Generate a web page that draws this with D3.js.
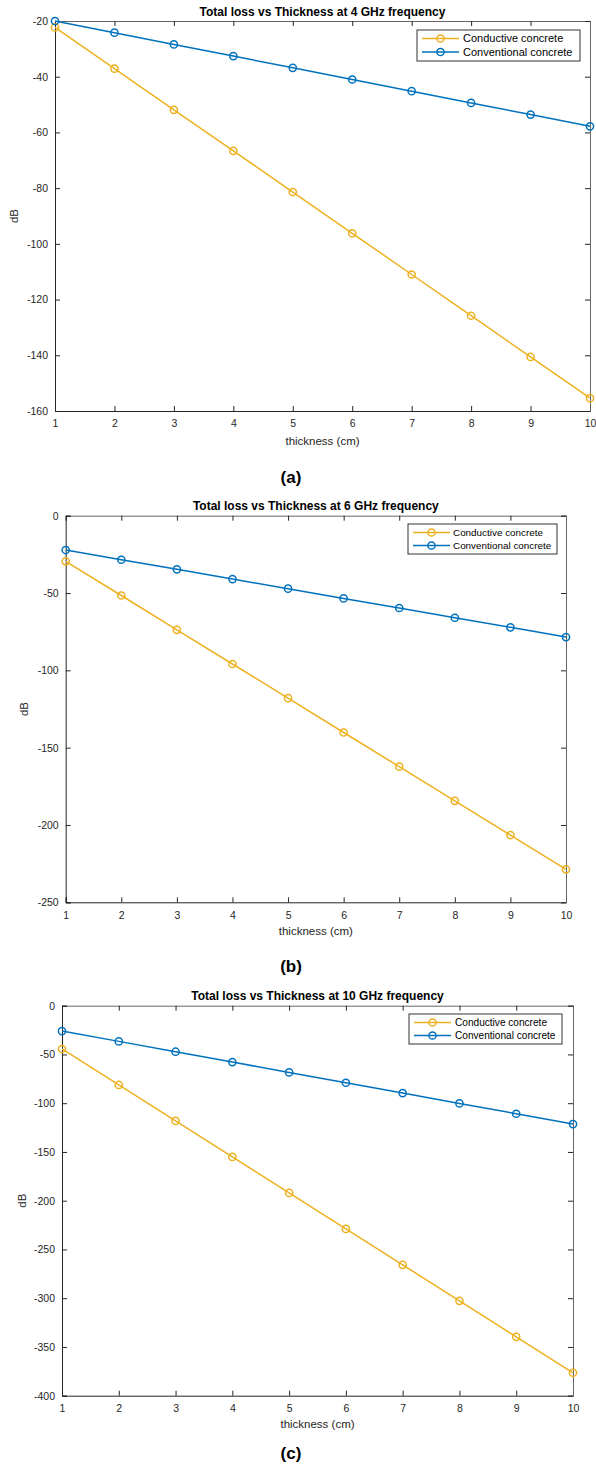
<!DOCTYPE html>
<html><head><meta charset="utf-8">
<script src="https://cdn.jsdelivr.net/npm/d3@7"></script>
<style>body{margin:0;background:#fff}svg{display:block;font-family:"Liberation Sans",Arial,sans-serif}</style>
</head><body><svg id="c" width="596" height="1472"></svg>
<script>
const thickness = [1,2,3,4,5,6,7,8,9,10];
const conductive4 = [-22.3,-37.1,-51.9,-66.6,-81.4,-96.2,-111.0,-125.8,-140.6,-155.4];
const conventional4 = [-20.0,-24.2,-28.4,-32.6,-36.8,-41.0,-45.2,-49.4,-53.6,-57.8];
const conductive6 = [-29.5,-51.6,-73.8,-95.9,-118.0,-140.2,-162.3,-184.4,-206.5,-228.7];
const conventional6 = [-22.2,-28.5,-34.7,-41.0,-47.2,-53.5,-59.7,-66.0,-72.2,-78.5];
const conductive10 = [-44.4,-81.3,-118.2,-155.1,-192.0,-228.9,-265.8,-302.7,-339.6,-376.5];
const conventional10 = [-26.0,-36.6,-47.2,-57.8,-68.4,-79.0,-89.6,-100.2,-110.8,-121.4];
const seriesNames = ["Conductive concrete","Conventional concrete"];
const titles = ["Total loss vs Thickness at 4 GHz frequency","Total loss vs Thickness at 6 GHz frequency","Total loss vs Thickness at 10 GHz frequency"];
const panelLabels = ["(a)","(b)","(c)"];
const yTicks4 = [-160,-140,-120,-100,-80,-60,-40,-20];
const yTicks6 = [-250,-200,-150,-100,-50,0];
const yTicks10 = [-400,-350,-300,-250,-200,-150,-100,-50,0];
const xLabel = "thickness (cm)", yLabel = "dB";

const colors = ["#EDB120","#0072BD"];
const axisColor = "#262626";
const svg = d3.select("#c");

const panels = [
  {l:55,r:590,t:21,b:411,dom:[-160,-20],ticks:yTicks4,data:[conductive4,conventional4],leg:{x:417,y:30,w:163,h:31,fs:11,tx:46,gap:13.5},titleY:12,xlY:441,pY:477,ylX:14},
  {l:65.7,r:566,t:515.7,b:902.3,dom:[-250,0],ticks:yTicks6,data:[conductive6,conventional6],leg:{x:408,y:524,w:149,h:30,fs:9.9,tx:45,gap:13},titleY:506,xlY:931,pY:966,ylX:24},
  {l:62,r:573,t:1005.7,b:1395.7,dom:[-400,0],ticks:yTicks10,data:[conductive10,conventional10],leg:{x:409,y:1014,w:153,h:30,fs:10.1,tx:46,gap:13},titleY:996,xlY:1424,pY:1453,ylX:22}
];
const fmt = d => String(d);

panels.forEach((p,i)=>{
  const g = svg.append("g");
  const x = d3.scaleLinear().domain([1,10]).range([p.l,p.r]);
  const y = d3.scaleLinear().domain(p.dom).range([p.b,p.t]);
  const tl = 5;
  const bottom = g.append("g").attr("transform",`translate(0,${p.b})`)
    .call(d3.axisBottom(x).tickValues(thickness).tickSize(-tl).tickPadding(9).tickFormat(fmt));
  const top = g.append("g").attr("transform",`translate(0,${p.t})`)
    .call(d3.axisTop(x).tickValues(thickness).tickSize(-tl).tickFormat(""));
  const left = g.append("g").attr("transform",`translate(${p.l},0)`)
    .call(d3.axisLeft(y).tickValues(p.ticks).tickSize(-tl).tickPadding(7).tickFormat(fmt));
  const right = g.append("g").attr("transform",`translate(${p.r},0)`)
    .call(d3.axisRight(y).tickValues(p.ticks).tickSize(-tl).tickFormat(""));
  [bottom,top,left,right].forEach(a=>{
    a.selectAll("path").attr("stroke",axisColor).attr("stroke-width",1);
    a.selectAll("line").attr("stroke",axisColor).attr("stroke-width",1);
    a.selectAll("text").attr("fill","#262626").style("font-size","10.5px").style("font-family",'"Liberation Sans",Arial,sans-serif');
  });
  [top,right].forEach(a=>{a.selectAll("path").attr("stroke","#666")});
  p.data.forEach((vals,k)=>{
    const pts = thickness.map((t,j)=>[t,vals[j]]);
    g.append("path").datum(pts).attr("fill","none").attr("stroke",colors[k]).attr("stroke-width",1.5)
      .attr("d",d3.line().x(d=>x(d[0])).y(d=>y(d[1])));
    g.selectAll(null).data(pts).enter().append("circle")
      .attr("cx",d=>x(d[0])).attr("cy",d=>y(d[1])).attr("r",3.6)
      .attr("fill","none").attr("stroke",colors[k]).attr("stroke-width",1.5);
  });
  g.append("text").attr("x",(p.l+p.r)/2).attr("y",p.titleY).attr("dy","0.35em").attr("text-anchor","middle")
    .style("font-weight","bold").style("font-size","12px").attr("fill","#000").text(titles[i]);
  g.append("text").attr("x",(p.l+p.r)/2).attr("y",p.xlY).attr("dy","0.35em").attr("text-anchor","middle")
    .style("font-size","11.5px").attr("fill","#262626").text(xLabel);
  g.append("text").attr("transform",`translate(${p.ylX},${(p.t+p.b)/2}) rotate(-90)`).attr("dy","0.35em").attr("text-anchor","middle")
    .style("font-size","11.5px").attr("fill","#262626").text(yLabel);
  g.append("text").attr("x",291).attr("y",p.pY).attr("dy","0.35em").attr("text-anchor","middle")
    .style("font-weight","bold").style("font-size","17px").attr("fill","#000").text(panelLabels[i]);
  const L = p.leg;
  const lg = g.append("g");
  lg.append("rect").attr("x",L.x).attr("y",L.y).attr("width",L.w).attr("height",L.h)
    .attr("fill","#fff").attr("stroke","#333").attr("stroke-width",1);
  seriesNames.forEach((n,k)=>{
    const cy = L.y + 8.5 + k*L.gap;
    lg.append("line").attr("x1",L.x+5).attr("x2",L.x+42).attr("y1",cy).attr("y2",cy)
      .attr("stroke",colors[k]).attr("stroke-width",1.5);
    lg.append("circle").attr("cx",L.x+23.5).attr("cy",cy).attr("r",3.6).attr("fill","none")
      .attr("stroke",colors[k]).attr("stroke-width",1.5);
    lg.append("text").attr("x",L.x+L.tx).attr("y",cy).attr("dy","0.35em")
      .style("font-size",L.fs+"px").attr("fill","#000").text(n);
  });
});
</script></body></html>
